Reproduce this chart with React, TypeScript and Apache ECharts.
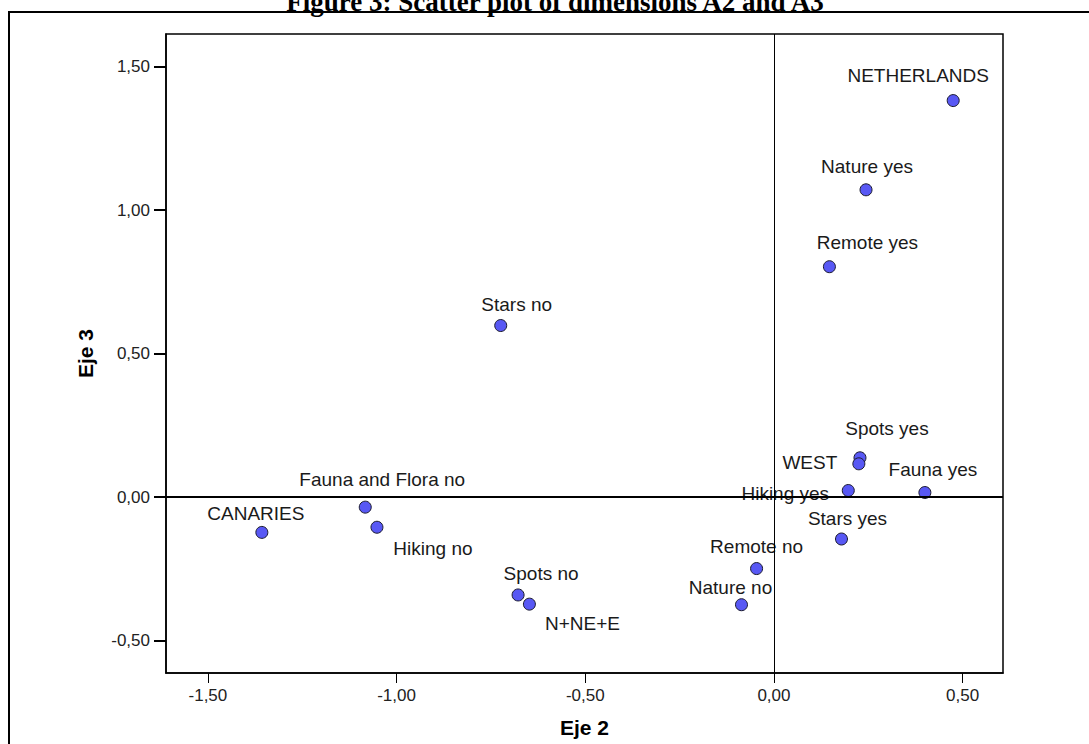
import React, { useEffect, useRef } from "react";
import * as echarts from "echarts";

const names = [
  "NETHERLANDS",
  "Nature yes",
  "Remote yes",
  "Stars no",
  "Spots yes",
  "WEST",
  "Hiking yes",
  "Fauna yes",
  "Stars yes",
  "Remote no",
  "Nature no",
  "Spots no",
  "N+NE+E",
  "CANARIES",
  "Fauna and Flora no",
  "Hiking no",
];
const eje2 = [0.475, 0.244, 0.147, -0.724, 0.228, 0.225, 0.197, 0.4, 0.179, -0.046, -0.086, -0.678, -0.648, -1.357, -1.083, -1.052];
const eje3 = [1.382, 1.071, 0.803, 0.598, 0.137, 0.116, 0.023, 0.016, -0.146, -0.249, -0.375, -0.341, -0.373, -0.123, -0.035, -0.105];

const xTicks = [-1.5, -1.0, -0.5, 0.0, 0.5];
const yTicks = [-0.5, 0.0, 0.5, 1.0, 1.5];

// label placement offsets (px) relative to each point, in the same order as names
const labelOffsets = [
  [-35, -25], [1, -23], [38, -24], [16, -21], [27, -29], [-49, -1], [-63, 3], [8, -23],
  [6, -21], [0, -22], [-11, -17], [23, -21], [53, 19], [-6, -19], [17, -28], [56, 21],
];

const fmt = (v: number) => {
  const s = Math.abs(v) < 1e-9 ? "0.00" : v.toFixed(2);
  return s.replace(".", ",");
};

export default function App() {
  const ref = useRef<HTMLDivElement>(null);
  useEffect(() => {
    if (!ref.current) return;
    const chart = echarts.init(ref.current, undefined, { renderer: "svg" });
    const data = names.map((n, i) => ({
      name: n,
      value: [eje2[i], eje3[i]],
      label: { offset: labelOffsets[i] },
    }));
    chart.setOption({
      animation: false,
      backgroundColor: "#ffffff",
      graphic: [
        {
          type: "rect",
          shape: { x: 9, y: 12, width: 1200, height: 900 },
          style: { fill: "none", stroke: "#000", lineWidth: 2 },
          silent: true,
        },
        {
          type: "text",
          x: 555,
          y: 2,
          style: {
            text: "Figure 3: Scatter plot of dimensions A2 and A3",
            font: "bold 27px 'Liberation Serif', 'Times New Roman', serif",
            fill: "#000",
            align: "center",
            verticalAlign: "middle",
          },
          silent: true,
        },
      ],
      grid: {
        left: 166,
        right: 86,
        top: 34,
        bottom: 71,
        outerBoundsMode: "none",
        containLabel: false,
        show: true,
        borderColor: "#000",
        borderWidth: 1.5,
        backgroundColor: "#fff",
      },
      xAxis: {
        type: "value",
        min: -1.611,
        max: 0.607,
        name: "Eje 2",
        nameLocation: "middle",
        nameGap: 44,
        nameTextStyle: {
          fontFamily: "'Liberation Sans', Arial, sans-serif",
          fontWeight: "bold",
          fontSize: 21,
          color: "#000",
        },
        axisLine: { onZero: false, lineStyle: { color: "#000", width: 1.5 } },
        axisTick: { show: true, customValues: xTicks, length: 10, lineStyle: { color: "#000", width: 1 } },
        axisLabel: {
          customValues: xTicks,
          formatter: (v: number) => fmt(v),
          fontFamily: "'Liberation Sans', Arial, sans-serif",
          fontSize: 17,
          color: "#222",
          margin: 14,
        },
        splitLine: { show: false },
      },
      yAxis: {
        type: "value",
        min: -0.613,
        max: 1.614,
        name: "Eje 3",
        nameLocation: "middle",
        nameGap: 70,
        nameRotate: 90,
        nameTextStyle: {
          fontFamily: "'Liberation Sans', Arial, sans-serif",
          fontWeight: "bold",
          fontSize: 21,
          color: "#000",
        },
        axisLine: { onZero: false, lineStyle: { color: "#000", width: 1.5 } },
        axisTick: { show: true, customValues: yTicks, length: 12, lineStyle: { color: "#000", width: 2 } },
        axisLabel: {
          customValues: yTicks,
          formatter: (v: number) => fmt(v),
          fontFamily: "'Liberation Sans', Arial, sans-serif",
          fontSize: 17,
          color: "#222",
          margin: 16,
        },
        splitLine: { show: false },
      },
      series: [
        {
          type: "scatter",
          symbol: "circle",
          symbolSize: 12,
          data,
          itemStyle: { color: "#5858f4", borderColor: "#1a1a2e", borderWidth: 1, opacity: 1 },
          label: {
            show: true,
            position: "inside",
            formatter: (p: any) => p.name,
            fontFamily: "'Liberation Sans', Arial, sans-serif",
            fontSize: 19,
            color: "#1a1a1a",
            align: "center",
            verticalAlign: "middle",
          },
          emphasis: { disabled: true },
          markLine: {
            silent: true,
            symbol: ["none", "none"],
            label: { show: false },
            emphasis: { disabled: true },
            data: [
              { xAxis: 0, lineStyle: { color: "#000", width: 1, type: "solid" } },
              { yAxis: 0, lineStyle: { color: "#000", width: 2, type: "solid" } },
            ],
          },
          z: 3,
        },
      ],
    });
    return () => chart.dispose();
  }, []);
  return (
    <div
      ref={ref}
      style={{ position: "fixed", left: 0, top: 0, width: 1089, height: 744, background: "#fff" }}
    />
  );
}
